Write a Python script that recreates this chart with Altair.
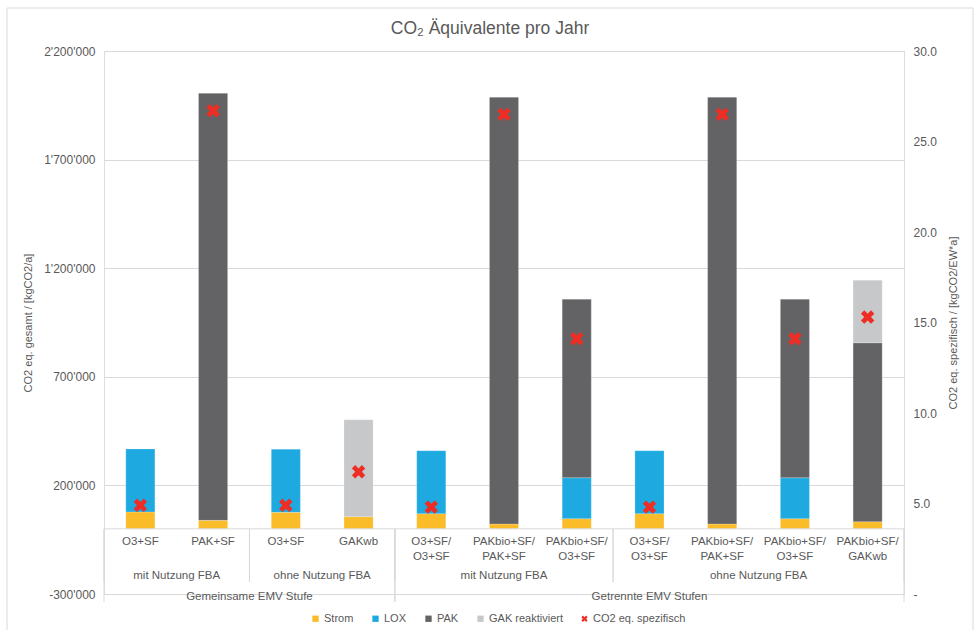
import altair as alt
import pandas as pd

# ---------------- data ----------------
categories = ["O3+SF", "PAK+SF", "O3+SF", "GAKwb",
              "O3+SF/\nO3+SF", "PAKbio+SF/\nPAK+SF", "PAKbio+SF/\nO3+SF",
              "O3+SF/\nO3+SF", "PAKbio+SF/\nPAK+SF", "PAKbio+SF/\nO3+SF", "PAKbio+SF/\nGAKwb"]
subgroups = ["mit Nutzung FBA", "mit Nutzung FBA", "ohne Nutzung FBA", "ohne Nutzung FBA",
             "mit Nutzung FBA", "mit Nutzung FBA", "mit Nutzung FBA",
             "ohne Nutzung FBA", "ohne Nutzung FBA", "ohne Nutzung FBA", "ohne Nutzung FBA"]
groups = ["Gemeinsame EMV Stufe"] * 4 + ["Getrennte EMV Stufen"] * 7

strom = [78000, 39000, 76000, 56000, 70000, 22500, 47000, 70000, 22500, 47000, 33000]
lox = [290000, 0, 291000, 0, 290000, 0, 188500, 290000, 0, 188500, 0]
pak = [0, 1966000, 0, 0, 0, 1964500, 822000, 0, 1964500, 822000, 823500]
gak = [0, 0, 0, 446000, 0, 0, 0, 0, 0, 0, 288500]
spez = [4.9, 26.7, 4.9, 6.75, 4.8, 26.5, 14.1, 4.8, 26.5, 14.1, 15.3]

series_names = ["Strom", "LOX", "PAK", "GAK reaktiviert"]
marker_name = "CO2 eq. spezifisch"
series_colors = ["#FBBC2A", "#1EAAE1", "#636365", "#C7C8CA"]
marker_color = "#EE2D24"

left_ticks = [-300000, 200000, 700000, 1200000, 1700000, 2200000]
right_ticks = [0, 5, 10, 15, 20, 25, 30]

# ---------------- tables ----------------
n = len(categories)
rows = []
for i in range(n):
    for k, (name, vals) in enumerate(zip(series_names, [strom, lox, pak, gak])):
        if vals[i] > 0:
            rows.append({"idx": i, "series": name, "value": vals[i], "ord": k})
bar_df = pd.DataFrame(rows)
pt_df = pd.DataFrame({"idx": list(range(n)), "series": marker_name, "spez": spez})
lab_df = pd.DataFrame({"idx": list(range(n)), "cat": categories, "sub": subgroups,
                       "grp": groups,
                       "key": [g + "|" + s for g, s in zip(groups, subgroups)]})

W, H = 800, 543
TXT = "#595959"
LINE = "#D9D9D9"
FONT = "Liberation Sans"

xscale = alt.Scale(domain=[-0.5, n - 0.5], nice=False, zero=False)
yscale = alt.Scale(domain=[left_ticks[0], left_ticks[-1]], nice=False, zero=False)
domain_all = series_names + [marker_name]
color_scale = alt.Scale(domain=domain_all, range=series_colors + [marker_color])
xpath = "M-1,-0.5L-0.5,-1L0,-0.5L0.5,-1L1,-0.5L0.5,0L1,0.5L0.5,1L0,0.5L-0.5,1L-1,0.5L-0.5,0Z"
shape_scale = alt.Scale(domain=domain_all, range=["square"] * 4 + [xpath])

legend = alt.Legend(title=None, orient="none", legendX=206, legendY=562,
                    direction="horizontal", labelFontSize=11, labelColor=TXT,
                    labelFont=FONT, symbolSize=40, symbolStrokeWidth=0,
                    columnPadding=16, labelOffset=3, padding=0)

left_label = ("replace(replace(replace(format(datum.value, ','), ',', \"'\"), ',', \"'\"), '\u2212', '-')")

frame = alt.Chart(pd.DataFrame({"a": [0]})).mark_rect(fill=None, stroke=LINE, strokeWidth=1).encode(
    x=alt.value(-97), x2=alt.value(869), y=alt.value(-43), y2=alt.value(590))

bars = alt.Chart(bar_df).transform_stack(
    stack="value", groupby=["idx"], as_=["y0", "y1"], sort=[alt.SortField("ord", order="ascending")]
).transform_calculate(
    x0="datum.idx - 0.2", x1="datum.idx + 0.2"
).mark_bar(stroke="white", strokeWidth=0.6, strokeOpacity=0.35).encode(
    x=alt.X("x0:Q", scale=xscale, axis=None),
    x2="x1:Q",
    y=alt.Y("y0:Q", scale=yscale, axis=alt.Axis(
        values=left_ticks, labelExpr=left_label, grid=True, gridColor=LINE, gridWidth=1,
        domain=False, ticks=False, labelPadding=9, labelFontSize=12, labelColor=TXT,
        labelFont=FONT, title="CO2 eq. gesamt / [kgCO2/a]", titleFontSize=11,
        titleFontWeight="normal", titleColor=TXT, titleFont=FONT, titlePadding=10)),
    y2="y1:Q",
    color=alt.Color("series:N", scale=color_scale, legend=legend),
)

zero_line = alt.Chart(pd.DataFrame({"a": [0]})).mark_rule(color=LINE, strokeWidth=1).encode(
    y=alt.datum(0), x=alt.value(0), x2=alt.value(W))

sub_rules = alt.Chart(lab_df).transform_aggregate(
    lo="min(idx)", hi="max(idx)", groupby=["key"]
).transform_calculate(
    left="datum.lo - 0.5", right="datum.hi + 0.5"
).transform_fold(["left", "right"], as_=["side", "edge"]).mark_rule(color=LINE, strokeWidth=1).encode(
    x=alt.X("edge:Q", scale=xscale, axis=None), y=alt.datum(0), y2=alt.value(531))

grp_rules = alt.Chart(lab_df).transform_aggregate(
    lo="min(idx)", hi="max(idx)", groupby=["grp"]
).transform_calculate(
    left="datum.lo - 0.5", right="datum.hi + 0.5"
).transform_fold(["left", "right"], as_=["side", "edge"]).mark_rule(color=LINE, strokeWidth=1).encode(
    x=alt.X("edge:Q", scale=xscale, axis=None), y=alt.datum(0), y2=alt.value(551))

cat_text = alt.Chart(lab_df).mark_text(
    lineBreak="\n", baseline="top", align="center", fontSize=11.5, color=TXT, font=FONT, lineHeight=15
).encode(x=alt.X("idx:Q", scale=xscale, axis=None), y=alt.value(485), text="cat:N")

sub_text = alt.Chart(lab_df).transform_aggregate(
    mid="mean(idx)", groupby=["key", "sub"]
).mark_text(baseline="middle", align="center", fontSize=11.5, color=TXT, font=FONT).encode(
    x=alt.X("mid:Q", scale=xscale, axis=None), y=alt.value(525), text="sub:N")

grp_text = alt.Chart(lab_df).transform_aggregate(
    lo="min(idx)", hi="max(idx)", groupby=["grp"]
).transform_calculate(mid="(datum.lo + datum.hi) / 2").mark_text(
    baseline="middle", align="center", fontSize=11.5, color=TXT, font=FONT).encode(
    x=alt.X("mid:Q", scale=xscale, axis=None), y=alt.value(546), text="grp:N")

inner = alt.layer(frame, bars, zero_line, sub_rules, grp_rules, cat_text, sub_text, grp_text)

points = alt.Chart(pt_df).mark_point(filled=True, size=180, opacity=1).encode(
    x=alt.X("idx:Q", scale=xscale, axis=None),
    y=alt.Y("spez:Q", scale=alt.Scale(domain=[right_ticks[0], right_ticks[-1]], nice=False, zero=False),
            axis=alt.Axis(orient="right", values=right_ticks,
                          labelExpr="datum.value == 0 ? '-' : format(datum.value, '.1f')",
                          grid=False, domain=False, ticks=False, labelPadding=9,
                          labelFontSize=12, labelColor=TXT, labelFont=FONT,
                          title="CO2 eq. spezifisch / [kgCO2/EW*a]", titleAngle=270,
                          titleFontSize=11, titleFontWeight="normal", titleColor=TXT,
                          titleFont=FONT, titlePadding=22)),
    color=alt.Color("series:N", scale=color_scale, legend=legend),
    shape=alt.Shape("series:N", scale=shape_scale, legend=legend),
)

chart = alt.layer(inner, points).resolve_scale(y="independent").properties(
    width=W, height=H,
    padding={"left": 104, "top": 51, "right": 75, "bottom": 36},
    autosize=alt.AutoSizeParams(type="none"),
    title=alt.TitleParams("CO\u2082 \u00c4quivalente pro Jahr", fontSize=17.5, color=TXT,
                          font=FONT, fontWeight="normal",
                          anchor="middle", offset=-30, dx=-14),
).configure_view(stroke=None).configure(font=FONT)

chart.save("out.html", embed_options={"renderer": "svg", "actions": False})
